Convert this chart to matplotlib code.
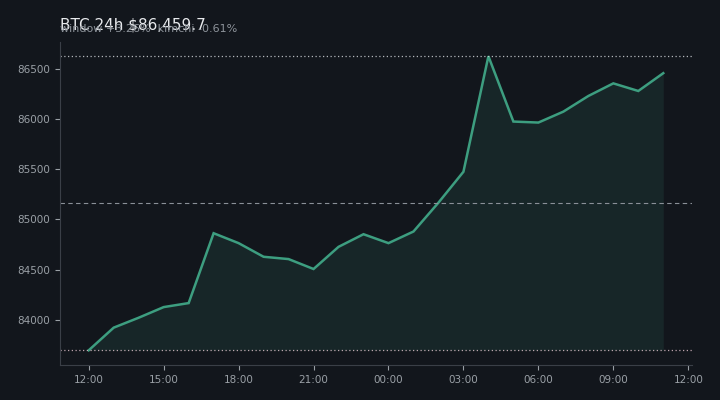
import numpy as np
import matplotlib
matplotlib.use("Agg")
import matplotlib.pyplot as plt

# ---- data ----
hour_labels = ["12:00", "15:00", "18:00", "21:00", "00:00", "03:00", "06:00", "09:00", "12:00"]
hours = list(range(24))  # hourly points starting 12:00
prices = [83695, 83921, 84020, 84126, 84166, 84863, 84764, 84628, 84605, 84506,
          84727, 84853, 84764, 84880, 85168, 85476, 86629, 85977, 85967, 86076,
          86232, 86358, 86282, 86459.7]
title_text = "BTC 24h $86,459.7"
subtitle_text = "window +3.26%  kimchi -0.61%"

# ---- style ----
BG = "#12161c"
LINE = "#3d9e80"
TICK = "#9aa0a6"
SPINE = "#3a3f47"

fig = plt.figure(figsize=(7.2, 4.0), dpi=100, facecolor=BG)
ax = fig.add_axes([60/720, 1-365/400, (692-60)/720, (365-41.5)/400])
ax.set_facecolor(BG)

x = np.array(hours, dtype=float)
y = np.array(prices, dtype=float)
ymin, ymax = y.min(), y.max()
mid = (ymin + ymax) / 2

ax.fill_between(x, y, ymin, color=LINE, alpha=0.12, linewidth=0)
ax.plot(x, y, color=LINE, linewidth=1.8, solid_joinstyle="miter")
ax.margins(x=0.05, y=0.05)
ax.autoscale_view()
ax.axhline(ymax, color="#cfd3d8", linestyle=(0, (1, 2)), linewidth=0.9, alpha=0.85)
ax.axhline(ymin, color="#dcbcc6", linestyle=(0, (1, 2)), linewidth=0.9, alpha=0.85)
ax.axhline(mid, color="#8a9098", linestyle=(0, (4, 3)), linewidth=0.8)

ax.set_xticks(np.arange(0, 25, 3))
ax.set_xticklabels(hour_labels)
ax.set_yticks([84000, 84500, 85000, 85500, 86000, 86500])
ax.tick_params(colors=TICK, labelsize=7.5, length=3.5, width=0.8)
for t in ax.get_xticklines() + ax.get_yticklines():
    t.set_color("#8a8f96")
for s in ["top", "right"]:
    ax.spines[s].set_visible(False)
for s in ["left", "bottom"]:
    ax.spines[s].set_color(SPINE)
    ax.spines[s].set_linewidth(0.8)

fig.text(60/720, 1-29/400, title_text, color="#e8eaed", fontsize=11, va="baseline", ha="left")
fig.text(60/720, 1-32.5/400, subtitle_text, color="#8e949b", fontsize=8, va="baseline", ha="left")

fig.savefig("out.png", dpi=100, facecolor=BG)
